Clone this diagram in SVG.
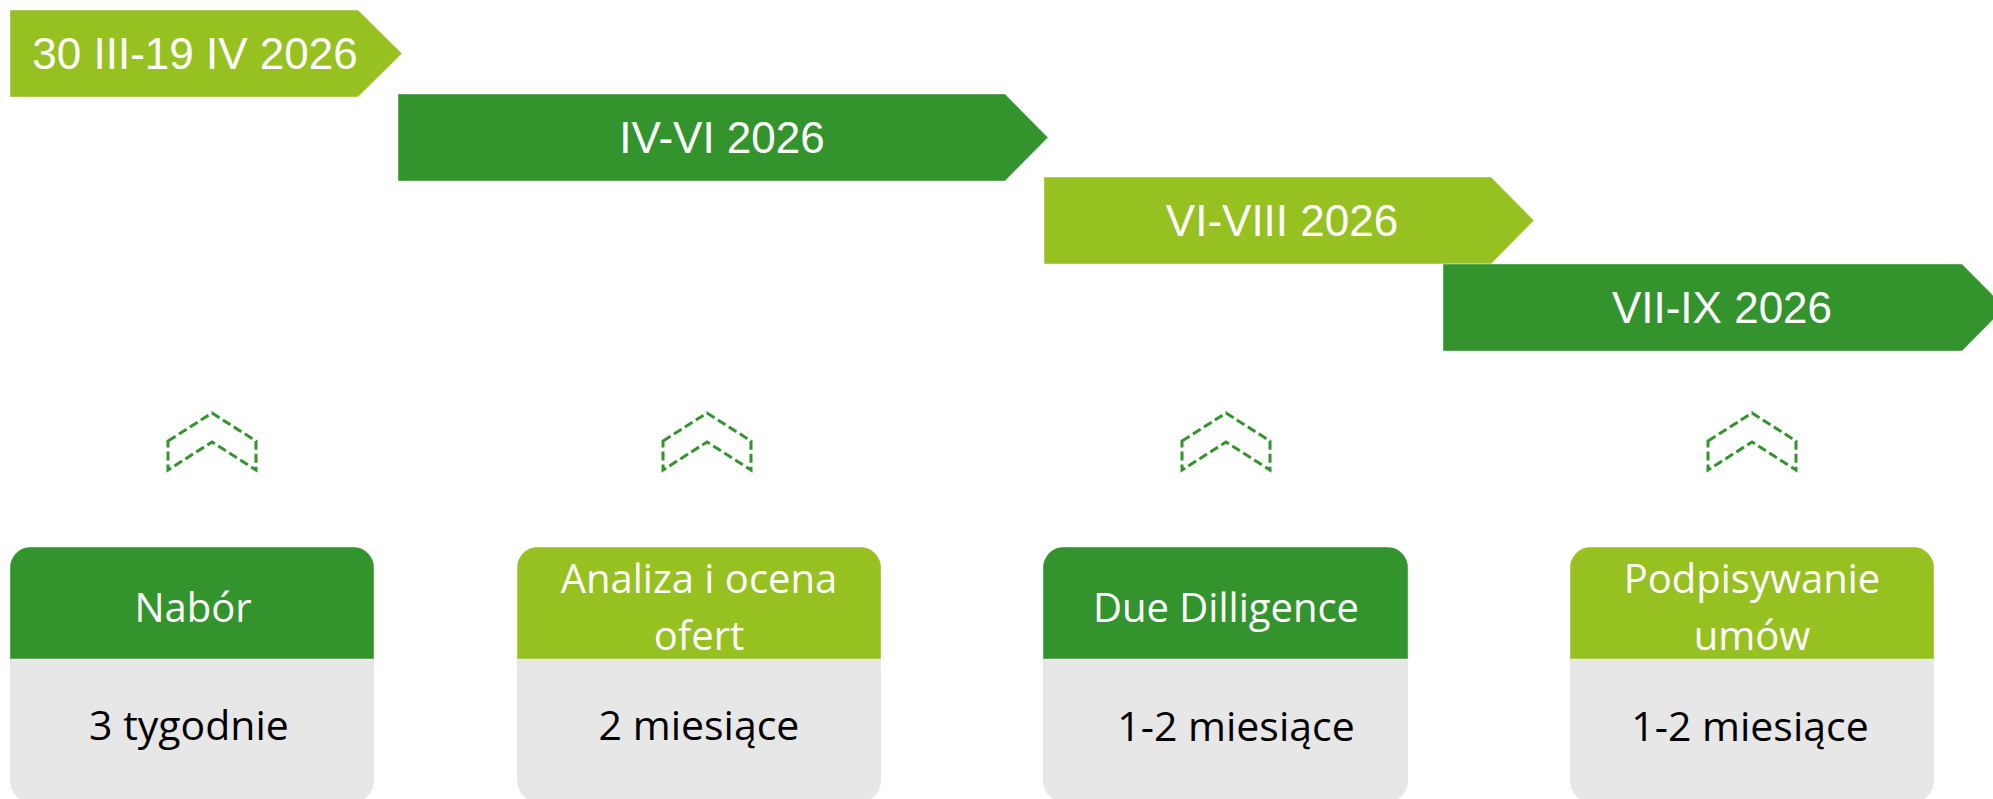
<svg xmlns="http://www.w3.org/2000/svg" width="1993" height="799" viewBox="0 0 1993 799">
<style>
.light{fill:#96C121;stroke:#ffffff;stroke-width:1;stroke-opacity:0.4}
.dark{fill:#33942D;stroke:#ffffff;stroke-width:1;stroke-opacity:0.4}
.bt{font-family:"Liberation Sans",Arial,sans-serif;font-size:44px;fill:#ffffff;text-anchor:middle}
.ht{font-family:"Open Sans","Noto Sans",sans-serif;font-size:40px;fill:#ffffff;text-anchor:middle}
.bd{font-family:"Open Sans","Noto Sans",sans-serif;font-size:41px;fill:#000000;text-anchor:middle}
.body{fill:#E7E7E7}
.chev{fill:none;stroke:#33942D;stroke-width:3;stroke-dasharray:9 4}
</style>
<defs>
<clipPath id="c1"><rect x="10" y="547" width="364" height="255" rx="21"/></clipPath>
<clipPath id="c2"><rect x="517" y="547" width="364" height="255" rx="21"/></clipPath>
<clipPath id="c3"><rect x="1043" y="547" width="365" height="255" rx="21"/></clipPath>
<clipPath id="c4"><rect x="1570" y="547" width="364" height="255" rx="21"/></clipPath>
</defs>
<g id="banner1">
<path class="light" d="M10,10 H358 L402,53.5 L358,97 H10 Z"/>
<text class="bt" x="195" y="68.5">30 III-19 IV 2026</text>
</g>
<g id="banner2">
<path class="dark" d="M398,94 H1005 L1048,137.5 L1005,181 H398 Z"/>
<text class="bt" x="722" y="153">IV-VI 2026</text>
</g>
<g id="banner3">
<path class="light" d="M1044,177 H1491 L1534,220.5 L1491,264 H1044 Z"/>
<text class="bt" x="1282" y="236">VI-VIII 2026</text>
</g>
<g id="banner4">
<path class="dark" d="M1443,264 H1962 L2005,307.5 L1962,351 H1443 Z"/>
<text class="bt" x="1722" y="322.5">VII-IX 2026</text>
</g>
<g id="connectors">
<path class="chev" d="M168,441 L212,413 L256,441 L256,470 L212,442 L168,470 Z"/>
<path class="chev" d="M663,441 L707,413 L751,441 L751,470 L707,442 L663,470 Z"/>
<path class="chev" d="M1182,441 L1226,413 L1270,441 L1270,470 L1226,442 L1182,470 Z"/>
<path class="chev" d="M1708,441 L1752,413 L1796,441 L1796,470 L1752,442 L1708,470 Z"/>
</g>
<g id="card1">
<g clip-path="url(#c1)">
<rect class="body" x="10" y="547" width="364" height="255"/>
<rect class="dark" x="10" y="547" width="364" height="112"/>
</g>
<text class="ht" x="193" y="622">Nabór</text>
<text class="bd" x="189" y="740">3 tygodnie</text>
</g>
<g id="card2">
<g clip-path="url(#c2)">
<rect class="body" x="517" y="547" width="364" height="255"/>
<rect class="light" x="517" y="547" width="364" height="112"/>
</g>
<text class="ht" x="699" y="593">Analiza i ocena</text>
<text class="ht" x="699" y="650">ofert</text>
<text class="bd" x="699" y="740">2 miesiące</text>
</g>
<g id="card3">
<g clip-path="url(#c3)">
<rect class="body" x="1043" y="547" width="365" height="255"/>
<rect class="dark" x="1043" y="547" width="365" height="112"/>
</g>
<text class="ht" x="1226" y="622">Due Dilligence</text>
<text class="bd" x="1236" y="741">1-2 miesiące</text>
</g>
<g id="card4">
<g clip-path="url(#c4)">
<rect class="body" x="1570" y="547" width="364" height="255"/>
<rect class="light" x="1570" y="547" width="364" height="112"/>
</g>
<text class="ht" x="1752" y="593">Podpisywanie</text>
<text class="ht" x="1752" y="650">umów</text>
<text class="bd" x="1750" y="741">1-2 miesiące</text>
</g>
</svg>
